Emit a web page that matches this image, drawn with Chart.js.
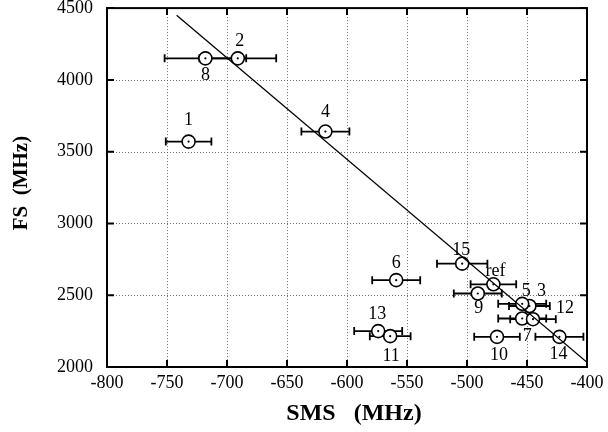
<!DOCTYPE html>
<html>
<head>
<meta charset="utf-8">
<script src="https://cdn.jsdelivr.net/npm/chart.js@4"></script>
<style>
  html, body { margin: 0; padding: 0; background: #fff; }
  #chart { display: block; }
</style>
</head>
<body>
<canvas id="chart" width="608" height="432"></canvas>
<script>
// ==============================
// DATA
// ==============================
const POINT_LABELS = ["1","2","3","4","5","6","7","8","9","10","11","12","13","14","15","ref"];
const SMS     = [-732, -691, -448, -618, -454, -559, -454, -718, -491, -475, -564, -445, -574, -423, -504, -478];
const SMS_ERR = [  19,   32,   17,   20,   20,   20,   20,   34,   20,   19,   17,   19,   20,   20,   21,   19];
const FS      = [3570, 4150, 2425, 3640, 2440, 2605, 2338, 4150, 2512, 2210, 2215, 2333, 2250, 2210, 2720, 2576];

const FIT_SMS = [-742, -400];
const FIT_FS  = [4451, 2033];

const X_TICKS = [-800, -750, -700, -650, -600, -550, -500, -450, -400];
const Y_TICKS = [2000, 2500, 3000, 3500, 4000, 4500];

// where each number sits next to its circle (px)
const LABEL_OFFSET = {
  "1": [0, -21], "2": [2, -17], "3": [12, -15], "4": [0, -19],
  "5": [4, -13], "6": [0, -17], "7": [5, 18], "8": [0, 17],
  "9": [1, 15], "10": [2, 18], "11": [1, 20], "12": [32, -11],
  "13": [-1, -17], "14": [-1, 17], "15": [-1, -13], "ref": [2, -13]
};

const SERIF = "'Liberation Serif', 'DejaVu Serif', serif";

// ==============================
// PLUGIN: grid, frame, inward ticks, error bars, labels, titles
// ==============================
const figurePlugin = {
  id: "figure",
  beforeDatasetsDraw(chart) {
    const { ctx, chartArea: a, scales: { x, y } } = chart;
    ctx.save();

    // dotted grid
    ctx.strokeStyle = "#707070";
    ctx.lineWidth = 1;
    ctx.setLineDash([1, 2]);
    ctx.beginPath();
    X_TICKS.forEach(t => {
      const px = Math.round(x.getPixelForValue(t)) + 0.5;
      ctx.moveTo(px, a.top); ctx.lineTo(px, a.bottom);
    });
    Y_TICKS.forEach(t => {
      const py = Math.round(y.getPixelForValue(t)) + 0.5;
      ctx.moveTo(a.left, py); ctx.lineTo(a.right, py);
    });
    ctx.stroke();
    ctx.setLineDash([]);

    // horizontal error bars
    ctx.strokeStyle = "#000";
    ctx.lineWidth = 1.8;
    SMS.forEach((v, i) => {
      const py = y.getPixelForValue(FS[i]);
      const x1 = x.getPixelForValue(v - SMS_ERR[i]);
      const x2 = x.getPixelForValue(v + SMS_ERR[i]);
      ctx.beginPath();
      ctx.moveTo(x1, py); ctx.lineTo(x2, py);
      ctx.moveTo(x1, py - 4); ctx.lineTo(x1, py + 4);
      ctx.moveTo(x2, py - 4); ctx.lineTo(x2, py + 4);
      ctx.stroke();
    });
    ctx.restore();
  },
  afterDraw(chart) {
    const { ctx, chartArea: a, scales: { x, y } } = chart;
    ctx.save();

    // centre dots
    ctx.fillStyle = "#000";
    SMS.forEach((v, i) => {
      ctx.beginPath();
      ctx.arc(x.getPixelForValue(v), y.getPixelForValue(FS[i]), 1.1, 0, Math.PI * 2);
      ctx.fill();
    });

    // frame
    ctx.strokeStyle = "#000";
    ctx.lineWidth = 2;
    ctx.strokeRect(a.left, a.top, a.right - a.left, a.bottom - a.top);

    // inward ticks on all four sides
    ctx.beginPath();
    X_TICKS.forEach(t => {
      const px = x.getPixelForValue(t);
      ctx.moveTo(px, a.bottom); ctx.lineTo(px, a.bottom - 7);
      ctx.moveTo(px, a.top); ctx.lineTo(px, a.top + 7);
    });
    Y_TICKS.forEach(t => {
      const py = y.getPixelForValue(t);
      ctx.moveTo(a.left, py); ctx.lineTo(a.left + 7, py);
      ctx.moveTo(a.right, py); ctx.lineTo(a.right - 7, py);
    });
    ctx.stroke();

    // point numbers
    ctx.font = "18px " + SERIF;
    ctx.textAlign = "center";
    ctx.textBaseline = "middle";
    POINT_LABELS.forEach((lab, i) => {
      const off = LABEL_OFFSET[lab];
      ctx.fillText(lab, x.getPixelForValue(SMS[i]) + off[0], y.getPixelForValue(FS[i]) + off[1]);
    });

    // axis titles
    ctx.font = "bold 24px " + SERIF;
    ctx.fillText("SMS   (MHz)", (a.left + a.right) / 2 + 7, a.bottom + 47);
    ctx.font = "bold 21px " + SERIF;
    ctx.translate(22, a.top + 175);
    ctx.rotate(-Math.PI / 2);
    ctx.fillText("FS  (MHz)", 0, 0);

    ctx.restore();
  }
};

// ==============================
// CHART
// ==============================
new Chart(document.getElementById("chart").getContext("2d"), {
  type: "scatter",
  data: {
    datasets: [
      {
        label: "Fit",
        type: "line",
        data: FIT_SMS.map((v, i) => ({ x: v, y: FIT_FS[i] })),
        borderColor: "#000",
        borderWidth: 1.3,
        pointRadius: 0,
        fill: false,
        order: 0
      },
      {
        label: "Isotopes",
        data: SMS.map((v, i) => ({ x: v, y: FS[i] })),
        pointStyle: "circle",
        pointRadius: 6.5,
        borderColor: "#000",
        borderWidth: 1.6,
        backgroundColor: "#fff",
        order: 1
      }
    ]
  },
  options: {
    responsive: false,
    animation: false,
    layout: { padding: { top: 7, right: 21, left: 0, bottom: 0 } },
    plugins: {
      legend: { display: false },
      tooltip: { enabled: false }
    },
    scales: {
      x: {
        type: "linear",
        min: -800,
        max: -400,
        afterBuildTicks: s => { s.ticks = X_TICKS.map(v => ({ value: v })); },
        afterFit: s => { s.height = 65; s.paddingLeft = 0; s.paddingRight = 0; },
        ticks: {
          color: "#000",
          font: { family: SERIF, size: 18 },
          padding: 5,
          callback: v => String(v)
        },
        grid: { display: false, drawTicks: false },
        border: { display: false }
      },
      y: {
        type: "linear",
        min: 2000,
        max: 4500,
        afterBuildTicks: s => { s.ticks = Y_TICKS.map(v => ({ value: v })); },
        afterFit: s => { s.width = 107; s.paddingTop = 0; s.paddingBottom = 0; },
        ticks: {
          color: "#000",
          font: { family: SERIF, size: 18 },
          padding: 14,
          align: "inner",
          callback: v => String(v)
        },
        grid: { display: false, drawTicks: false },
        border: { display: false }
      }
    }
  },
  plugins: [figurePlugin]
});
</script>
</body>
</html>
